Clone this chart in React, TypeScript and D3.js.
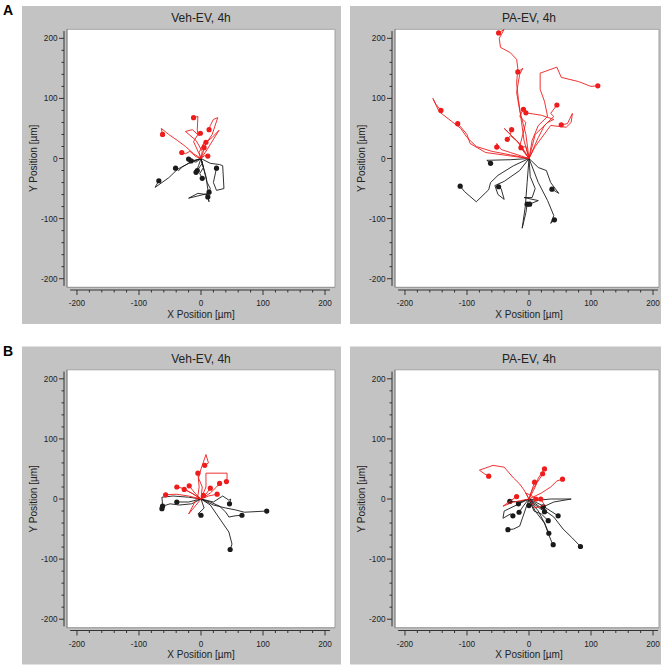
import React from "react";
import * as d3 from "d3";

type Pt = [number, number];

// ---------- data (µm) ----------
const panelTitles = ["Veh-EV, 4h", "PA-EV, 4h", "Veh-EV, 4h", "PA-EV, 4h"];
const rowLetters = ["A", "B"];
const tickValues = [-200, -100, 0, 100, 200];
const tickLabels = ["-200", "-100", "0", "100", "200"];
const minorTickValues = [-180, -160, -140, -120, -80, -60, -40, -20, 20, 40, 60, 80, 120, 140, 160, 180];

const vehA_red: Pt[][] = [
  [[0, 0], [-4, 10], [-12, 28], [-5, 40], [-6, 48], [-5, 70], [-12, 68]],
  [[0, 0], [-12, 8], [-25, 20], [-38, 30], [-52, 40], [-64, 50], [-62, 40]],
  [[0, 0], [2, 12], [-8, 30], [-25, 45], [-14, 48], [-3, 38], [-1, 42]],
  [[0, 0], [8, 25], [18, 40], [27, 68], [20, 65], [15, 55], [13, 48]],
  [[0, 0], [10, 15], [29, 47], [18, 35], [8, 27]],
  [[0, 0], [-3, 10], [4, 25], [5, 18]],
  [[0, 0], [-8, 3], [-18, 12], [-25, 8], [-31, 10]],
  [[0, 0], [6, 5], [11, 4]],
];
const vehA_black: Pt[][] = [
  [[0, 0], [-20, -8], [-38, -18], [-52, -32], [-74, -48], [-68, -37]],
  [[0, 0], [-15, -5], [-30, -14], [-36, -20], [-41, -16]],
  [[0, 0], [-10, -3], [-20, -1]],
  [[0, 0], [-8, -6], [-16, -4]],
  [[0, 0], [-4, -12], [-8, -23]],
  [[0, 0], [2, -8], [-6, -20]],
  [[0, 0], [4, -15], [-2, -25], [2, -33]],
  [[0, 0], [15, -8], [30, -10], [35, -12], [37, -50], [25, -53], [20, -40], [25, -16]],
  [[0, 0], [5, -20], [10, -40], [15, -50], [13, -56]],
  [[0, 0], [8, -30], [12, -58], [-20, -66], [-5, -58], [10, -60], [13, -72], [11, -64]],
];

const paA_red: Pt[][] = [
  [[0, 0], [-8, 30], [-12, 60], [-17, 98], [-20, 125], [-18, 150], [-20, 165], [-30, 176], [-46, 185], [-48, 200], [-40, 215], [-49, 209]],
  [[0, 0], [-5, 40], [-15, 80], [-20, 110], [-15, 140], [-10, 150], [-18, 144]],
  [[0, 0], [5, 30], [15, 55], [30, 70], [25, 95], [18, 115], [18, 142], [45, 152], [52, 135], [80, 128], [100, 120], [111, 121]],
  [[0, 0], [-30, 6], [-60, 12], [-85, 20], [-100, 35], [-110, 50], [-125, 62], [-145, 78], [-155, 100], [-150, 90], [-142, 80]],
  [[0, 0], [-35, 5], [-70, 10], [-95, 25], [-100, 40], [-108, 50], [-115, 58]],
  [[0, 0], [-15, 20], [-10, 40], [-5, 60], [-15, 70], [-9, 82]],
  [[0, 0], [10, 40], [30, 60], [40, 65], [20, 72], [-5, 76]],
  [[0, 0], [15, 35], [25, 55], [40, 70], [35, 75], [45, 89]],
  [[0, 0], [10, 20], [35, 55], [60, 52], [68, 60], [70, 75], [62, 58], [52, 56]],
  [[0, 0], [-20, 30], [-40, 50], [-30, 40], [-28, 48]],
  [[0, 0], [-15, 25], [-30, 38], [-35, 32]],
  [[0, 0], [-30, 10], [-45, 15], [-52, 25], [-52, 19]],
  [[0, 0], [-5, 20], [-13, 18]],
];
const paA_black: Pt[][] = [
  [[0, 0], [-30, -2], [-68, -3], [-62, -8]],
  [[0, 0], [-25, -12], [-50, -28], [-62, -40], [-65, -52], [-85, -72], [-104, -55], [-111, -46]],
  [[0, 0], [-15, -20], [-40, -38], [-55, -45], [-50, -60], [-40, -68], [-45, -50], [-49, -47]],
  [[0, 0], [-3, -40], [-6, -80], [-11, -116], [-5, -90], [-3, -76]],
  [[0, 0], [2, -30], [10, -50], [5, -65], [-8, -65], [15, -70], [1, -76]],
  [[0, 0], [15, -15], [28, -20], [35, -40], [48, -58], [37, -51]],
  [[0, 0], [15, -40], [30, -70], [40, -95], [35, -108], [41, -102]],
];

const vehB_red: Pt[][] = [
  [[0, 0], [2, 20], [-4, 35], [0, 50], [8, 74], [12, 60], [6, 56]],
  [[0, 0], [-20, -25], [-5, 5], [-3, 20], [-5, 43]],
  [[0, 0], [8, 20], [8, 43], [42, 43], [42, 35], [41, 29]],
  [[0, 0], [15, 10], [25, 20], [30, 26]],
  [[0, 0], [8, 8], [15, 18]],
  [[0, 0], [-10, 10], [-19, 22]],
  [[0, 0], [-15, 10], [-30, 18], [-39, 20]],
  [[0, 0], [-12, 8], [-27, 16]],
  [[0, 0], [-20, 5], [-40, 8], [-57, 7]],
  [[0, 0], [12, 5], [26, 8]],
  [[0, 0], [4, 6]],
];
const vehB_black: Pt[][] = [
  [[0, 0], [-20, 3], [-45, 5], [-63, 3], [-62, -10], [-63, -16]],
  [[0, 0], [-15, -8], [-35, -10], [-50, -8], [-62, -12]],
  [[0, 0], [-20, -5], [-39, -5]],
  [[0, 0], [5, -15], [-5, -25], [0, -27]],
  [[0, 0], [20, -5], [35, 5], [45, -2], [48, 0], [46, -8]],
  [[0, 0], [15, -5], [30, -12], [40, -22], [45, -30], [55, -28], [66, -27]],
  [[0, 0], [20, -10], [40, -15], [55, -18], [70, -22], [106, -20]],
  [[0, 0], [15, -10], [25, -25], [35, -40], [45, -55], [50, -75], [47, -84]],
];

const paB_red: Pt[][] = [
  [[0, 0], [-8, 15], [-15, 25], [-25, 35], [-40, 53], [-58, 56], [-80, 48], [-72, 42], [-65, 38]],
  [[0, 0], [10, 20], [15, 35], [22, 45], [25, 50]],
  [[0, 0], [5, 15], [18, 35], [22, 42]],
  [[0, 0], [3, 10], [9, 28]],
  [[0, 0], [20, 10], [35, 20], [45, 30], [54, 33]],
  [[0, 0], [-25, -5], [-42, -12], [-30, -3], [-20, 4]],
  [[0, 0], [-5, 10], [5, 5], [11, 0]],
  [[0, 0], [10, -15], [25, -10], [19, 0]],
];
const paB_black: Pt[][] = [
  [[0, 0], [-15, -5], [-31, -4]],
  [[0, 0], [-10, -3], [-17, -8]],
  [[0, 0], [-8, -10], [-16, -22]],
  [[0, 0], [-20, -10], [-40, -20], [-42, -32], [-30, -25], [-26, -28]],
  [[0, 0], [-5, -15], [-10, -30], [-15, -45], [-25, -50], [-34, -51]],
  [[0, 0], [0, -11]],
  [[0, 0], [15, -2], [35, 0], [68, 0], [40, -5], [23, -13]],
  [[0, 0], [10, -10], [25, -21]],
  [[0, 0], [8, -20], [20, -25], [31, -36]],
  [[0, 0], [20, -10], [35, -20], [47, -28]],
  [[0, 0], [15, -20], [25, -40], [32, -57]],
  [[0, 0], [10, -20], [25, -40], [32, -60], [36, -70], [39, -76]],
  [[0, 0], [20, -15], [40, -30], [55, -50], [70, -65], [83, -79]],
];

const panelRed = [vehA_red, paA_red, vehB_red, paB_red];
const panelBlack = [vehA_black, paA_black, vehB_black, paB_black];

// ---------- layout ----------
const W = 672, H = 668;
const FONT = "'Liberation Sans', Arial, sans-serif";
const RED = "#ee1c1c";
const BLACK = "#1a1a1a";

function Panel({ idx }: { idx: number }) {
  const col = idx % 2, row = Math.floor(idx / 2);
  const ox = col * 328;
  const oy = row * 340.5;
  const grayLeft = 22, grayTop = 6;
  const grayRight = col === 0 ? 341 : 333; // right panel cropped
  const grayBottom = 324;
  const pL = 67, pT = 29.3, pR = 335, pB = 287.3;
  const pRdraw = col === 0 ? 335 : 331;

  const x = d3.scaleLinear().domain([-216.1, 216.1]).range([pL, pR]);
  const y = d3.scaleLinear().domain([-214.3, 215]).range([pB, pT]);
  const line = d3.line<Pt>().x((d) => x(d[0])).y((d) => y(d[1]));
  const clipId = `clip${idx}`;
  const axisY = 290;
  const axisX = 64;

  const tracks = (list: Pt[][], color: string, key: string) => (
    <g key={key}>
      {list.map((t, i) => (
        <path key={i} d={line(t) || ""} fill="none" stroke={color} strokeWidth={0.9} strokeLinejoin="round" />
      ))}
      {list.map((t, i) => {
        const e = t[t.length - 1];
        return <circle key={"c" + i} cx={x(e[0])} cy={y(e[1])} r={2.6} fill={color} />;
      })}
    </g>
  );

  return (
    <g transform={`translate(${ox},${oy})`}>
      <rect x={grayLeft} y={grayTop} width={grayRight - grayLeft} height={grayBottom - grayTop} fill="#c3c3c3" />
      <defs>
        <clipPath id={clipId}>
          <rect x={pL} y={pT} width={pRdraw - pL} height={pB - pT} />
        </clipPath>
      </defs>
      <rect x={pL} y={pT} width={pRdraw - pL} height={pB - pT} fill="#ffffff" />
      {/* frame */}
      <line x1={pL} y1={pT} x2={pRdraw} y2={pT} stroke="#a6a6a6" strokeWidth={1} />
      <line x1={pRdraw} y1={pT} x2={pRdraw} y2={pB} stroke="#a0a0a0" strokeWidth={1} />
      <line x1={pL} y1={pT} x2={pL} y2={pB} stroke="#7a7a7a" strokeWidth={1.2} />
      <line x1={pL} y1={pB} x2={pRdraw} y2={pB} stroke="#8a8a8a" strokeWidth={1} />

      {/* title */}
      <text x={(pL + pR) / 2} y={22} textAnchor="middle" fontFamily={FONT} fontSize={12} fill="#222">
        {panelTitles[idx]}
      </text>

      {/* y axis */}
      <line x1={axisX} y1={y(212)} x2={axisX} y2={y(-212)} stroke="#333" strokeWidth={1} />
      {tickValues.map((v, i) => (
        <g key={"yt" + v}>
          <line x1={axisX - 5} x2={axisX} y1={y(v)} y2={y(v)} stroke="#333" />
          <text x={axisX - 6.5} y={y(v) + 3} textAnchor="end" fontFamily={FONT} fontSize={8.2} fill="#222">
            {tickLabels[i]}
          </text>
        </g>
      ))}
      {minorTickValues.map((v) => (
        <line key={"ym" + v} x1={axisX - 2.5} x2={axisX} y1={y(v)} y2={y(v)} stroke="#333" />
      ))}
      <text
        transform={`translate(37,${(pT + pB) / 2}) rotate(-90)`}
        textAnchor="middle"
        fontFamily={FONT}
        fontSize={10}
        fill="#222"
      >
        Y Position [µm]
      </text>

      {/* x axis */}
      <line x1={x(-211)} y1={axisY} x2={x(208)} y2={axisY} stroke="#333" strokeWidth={1} />
      {tickValues.map((v, i) => (
        <g key={"xt" + v}>
          <line x1={x(v)} x2={x(v)} y1={axisY} y2={axisY + 5} stroke="#333" />
          <text x={x(v)} y={axisY + 16} textAnchor="middle" fontFamily={FONT} fontSize={8.2} fill="#222">
            {tickLabels[i]}
          </text>
        </g>
      ))}
      {minorTickValues.map((v) => (
        <line key={"xm" + v} x1={x(v)} x2={x(v)} y1={axisY} y2={axisY + 2.5} stroke="#333" />
      ))}
      <text x={(pL + pR) / 2} y={317.5} textAnchor="middle" fontFamily={FONT} fontSize={10} fill="#222">
        X Position [µm]
      </text>

      <g clipPath={`url(#${clipId})`}>
        {tracks(panelBlack[idx], BLACK, "b")}
        {tracks(panelRed[idx], RED, "r")}
      </g>
    </g>
  );
}

export default function App() {
  return (
    <svg
      width={W}
      height={H}
      viewBox={`0 0 ${W} ${H}`}
      style={{ position: "absolute", left: 0, top: 0, background: "#fff" }}
    >
      <rect x={0} y={0} width={W} height={H} fill="#fff" />
      {[0, 1, 2, 3].map((i) => (
        <Panel key={i} idx={i} />
      ))}
      {rowLetters.map((l, i) => (
        <text key={l} x={3} y={15 + i * 341} fontFamily={FONT} fontWeight="bold" fontSize={14} fill="#000">
          {l}
        </text>
      ))}
    </svg>
  );
}
